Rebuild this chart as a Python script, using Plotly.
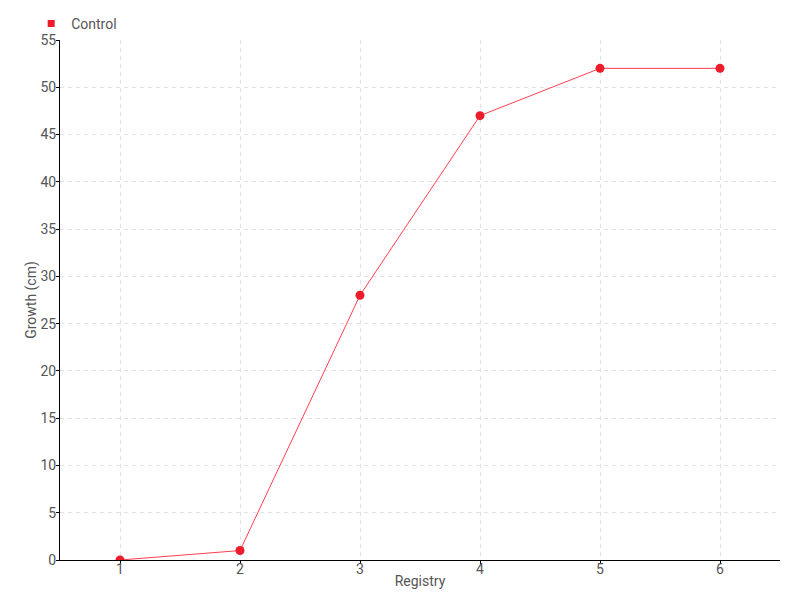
import plotly.graph_objects as go

registry = [1, 2, 3, 4, 5, 6]
growth = [0, 1, 28, 47, 52, 52]
series_name = "Control"

font_family = "Roboto, Liberation Sans, sans-serif"
grid_color = "#e2e2e2"

fig = go.Figure()
fig.add_trace(go.Scatter(
    x=registry, y=growth, name=series_name, mode="lines+markers",
    line=dict(color="#ff4050", width=1),
    marker=dict(color="#ec1c2a", size=9, symbol="circle"),
    showlegend=False, legendgroup="c",
))
fig.add_trace(go.Scatter(
    x=[None], y=[None], name=series_name, mode="markers",
    marker=dict(color="#ec1c2a", size=7, symbol="square"),
    showlegend=True, legendgroup="c",
))

fig.update_layout(
    width=800, height=600,
    margin=dict(l=60, r=20, t=40, b=40, autoexpand=False),
    paper_bgcolor="white", plot_bgcolor="white",
    font=dict(family=font_family, size=14, color="#555555"),
    showlegend=True,
    legend=dict(x=-0.04, y=1.0, xanchor="left", yanchor="bottom",
                orientation="h", font=dict(size=14, color="#555555"),
                bgcolor="rgba(0,0,0,0)", itemwidth=30,
                tracegroupgap=0),
    xaxis=dict(
        range=[0.5, 6.5], tickvals=registry, ticktext=[str(v) for v in registry],
        showline=True, linecolor="black", linewidth=1,
        ticks="outside", ticklen=3, tickcolor="black",
        ticklabelstandoff=-7,
        showgrid=True, gridcolor=grid_color, griddash="4px,4px", gridwidth=1,
        zeroline=False, automargin=False,
        title=dict(text="Registry", standoff=0, font=dict(size=14, color="#555555")),
    ),
    yaxis=dict(
        range=[0, 55], dtick=5,
        showline=True, linecolor="black", linewidth=1,
        ticks="outside", ticklen=3, tickcolor="black",
        ticklabelstandoff=-3,
        showgrid=True, gridcolor=grid_color, griddash="4px,4px", gridwidth=1,
        zeroline=False, automargin=False,
        title=dict(text="Growth (cm)", standoff=0, font=dict(size=14, color="#555555")),
    ),
)

fig.write_html("out.html", config={"displayModeBar": False},
               post_script="document.body.style.margin='0';document.body.style.overflow='hidden';")
